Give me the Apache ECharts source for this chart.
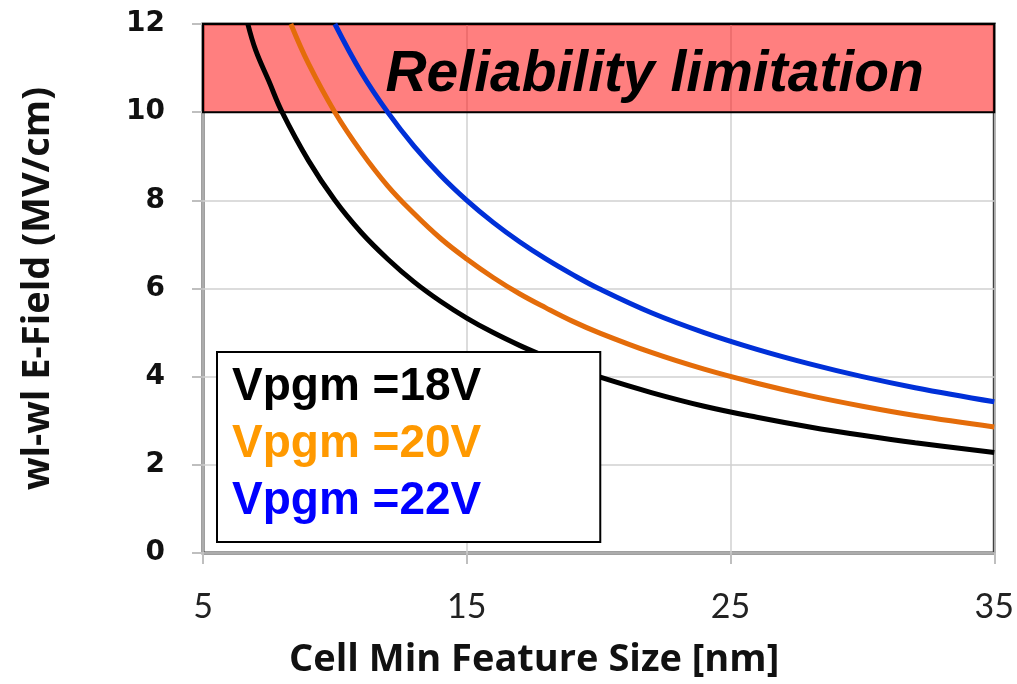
<!DOCTYPE html>
<html>
<head>
<meta charset="utf-8">
<script src="https://cdn.jsdelivr.net/npm/echarts@6/dist/echarts.min.js"></script>
<style>
  html, body { margin: 0; padding: 0; background: #fff; }
  #chart { width: 1017px; height: 684px; }
</style>
</head>
<body>
<div id="chart"></div>
<script>
// feature size (nm) / E-field (MV/cm)
const xs18 = [6.7, 7, 7.5, 8, 9, 10, 11, 12, 13, 14, 15, 16, 17, 18, 19, 20, 22, 24, 26, 28, 30, 32, 35]
const e18 = [12, 11.4, 10.7, 10, 8.9, 8, 7.27, 6.67, 6.15, 5.71, 5.33, 5.0, 4.71, 4.45, 4.21, 4.0, 3.64, 3.33, 3.08, 2.86, 2.67, 2.5, 2.28]
const xs20 = [8.33, 9, 10, 11, 12, 13, 14, 15, 16, 17, 18, 19, 20, 22, 24, 26, 28, 30, 32, 35]
const e20 = [12, 11.1, 10, 9.1, 8.33, 7.7, 7.14, 6.67, 6.25, 5.88, 5.56, 5.26, 5.0, 4.55, 4.17, 3.85, 3.57, 3.33, 3.12, 2.86]
const xs22 = [10, 11, 12, 13, 14, 15, 16, 17, 18, 19, 20, 22, 24, 26, 28, 30, 32, 35]
const e22 = [12, 10.9, 10, 9.23, 8.57, 8.0, 7.5, 7.06, 6.67, 6.32, 6.0, 5.45, 5.0, 4.62, 4.29, 4.0, 3.75, 3.43]

const seriesNames = ['Vpgm =18V', 'Vpgm =20V', 'Vpgm =22V']
const lineColors = ['#000000', '#e46c0a', '#0030d8']
const legendColors = ['#000000', '#ff9900', '#0000ff']
const limitRange = [10, 12]
const limitLabel = 'Reliability limitation'

const chart = echarts.init(document.getElementById('chart'))

const pair = (xs, ys) => xs.map((x, i) => [x, ys[i]])
const curves = [pair(xs18, e18), pair(xs20, e20), pair(xs22, e22)]

const series = curves.map((data, i) => ({
  name: seriesNames[i],
  type: 'line',
  data: data,
  smooth: 0.4,
  showSymbol: false,
  z: 2,
  lineStyle: { color: lineColors[i], width: 5 },
  itemStyle: { color: lineColors[i] }
}))

// translucent red band drawn above the curves
series.push({
  name: 'limit',
  type: 'line',
  data: [],
  z: 10,
  markArea: {
    silent: true,
    itemStyle: { color: 'rgba(255,0,0,0.5)', borderColor: '#000', borderWidth: 2 },
    label: {
      show: true,
      position: 'inside',
      offset: [56, 7],
      color: '#000',
      fontFamily: 'Liberation Sans',
      fontWeight: 'bold',
      fontStyle: 'italic',
      fontSize: 57
    },
    data: [[{ name: limitLabel, yAxis: limitRange[0] }, { yAxis: limitRange[1] }]]
  }
})

chart.setOption({
  animation: false,
  grid: {
    left: 203, right: 19, top: 24, bottom: 131,
    show: true, borderColor: '#404040', borderWidth: 3, backgroundColor: 'transparent'
  },
  legend: {
    data: seriesNames.map((n, i) => ({ name: n, icon: 'none', textStyle: { color: legendColors[i] } })),
    orient: 'vertical',
    left: 217, top: 352,
    itemWidth: 0, itemHeight: 46, itemGap: 11,
    padding: [12, 119, 18, 10],
    backgroundColor: '#fff',
    borderColor: '#000', borderWidth: 2,
    selectedMode: false,
    textStyle: { fontFamily: 'Liberation Sans', fontWeight: 'bold', fontSize: 46 }
  },
  xAxis: {
    type: 'value',
    min: 5, max: 35, interval: 10,
    name: 'Cell Min Feature Size [nm]',
    nameLocation: 'middle',
    nameGap: 88,
    nameTextStyle: {
      fontFamily: 'Open Sans', fontSize: 38, fontWeight: 'bold', color: '#111',
      padding: [0, 129, 0, 0]
    },
    axisLine: { show: false },
    axisTick: { show: true, length: 11, lineStyle: { color: '#bfbfbf', width: 2 } },
    axisLabel: { margin: 37, fontFamily: 'Lato', fontSize: 34, color: '#222' },
    splitLine: { lineStyle: { color: '#d0d0d0', width: 1.5 } }
  },
  yAxis: {
    type: 'value',
    min: 0, max: 12, interval: 2,
    name: 'wl-wl E-Field (MV/cm)',
    nameLocation: 'middle',
    nameGap: 146,
    nameTextStyle: {
      fontFamily: 'Open Sans', fontSize: 38, fontWeight: 'bold', color: '#111'
    },
    axisLine: { show: false },
    axisTick: { show: true, length: 11, lineStyle: { color: '#bfbfbf', width: 2 } },
    axisLabel: { margin: 38, fontFamily: 'DejaVu Sans', fontWeight: 'bold', fontSize: 28, color: '#111' },
    splitLine: { lineStyle: { color: '#d0d0d0', width: 1.5 } }
  },
  series: series
})
</script>
</body>
</html>
